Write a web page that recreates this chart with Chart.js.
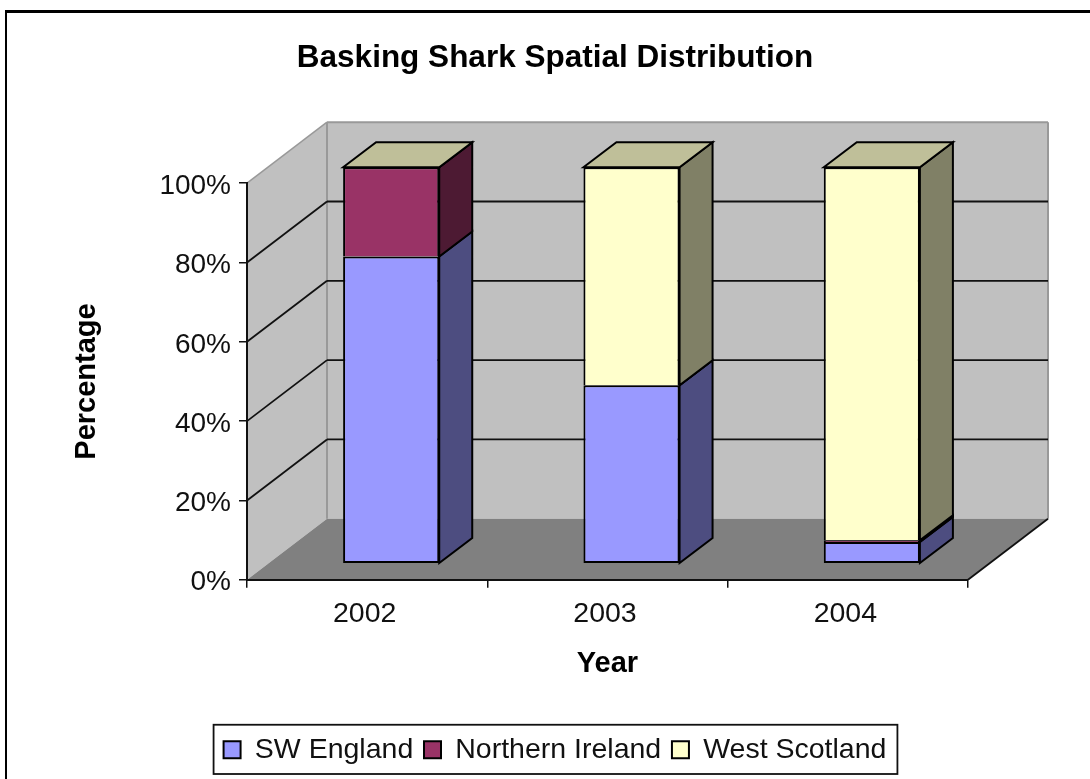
<!DOCTYPE html>
<html>
<head>
<meta charset="utf-8">
<title>Basking Shark Spatial Distribution</title>
<script src="https://cdn.jsdelivr.net/npm/chart.js@4"></script>
<style>
    html, body { margin: 0; padding: 0; background: #ffffff; }
    canvas { display: block; filter: blur(0.4px); }
</style>
</head>
<body>
<canvas id="sharkChart" width="1090" height="779"></canvas>
<script>
const years = ["2002", "2003", "2004"];
const swEngland = [77.5, 45, 5.5];
const northernIreland = [22.5, 0, 0.4];
const westScotland = [0, 55, 94.1];

const seriesNames = ["SW England", "Northern Ireland", "West Scotland"];
const frontColors = ["#9999FF", "#993366", "#FFFFCC"];
const sideColors = ["#4D4D80", "#4D1A33", "#808066"];
const topColors = ["#BFBFE6", "#B3668C", "#BFBF99"];

const FONT = "'Liberation Sans', Arial, sans-serif";

// how far the back wall and the bars sit behind the front plane
const wallDepth = { x: 80, y: -61 };
const barShift = { x: 24, y: -16 };
const barDepth = { x: 33, y: -25 };

function fillPoly(ctx, points, fill, stroke, lineWidth) {
    ctx.beginPath();
    points.forEach((p, i) => {
        if (i === 0) ctx.moveTo(p[0], p[1]);
        else ctx.lineTo(p[0], p[1]);
    });
    ctx.closePath();
    if (fill) {
        ctx.fillStyle = fill;
        ctx.fill();
    }
    if (stroke) {
        ctx.strokeStyle = stroke;
        ctx.lineWidth = lineWidth;
        ctx.stroke();
    }
}

function drawLine(ctx, x1, y1, x2, y2, color, width) {
    ctx.beginPath();
    ctx.moveTo(x1, y1);
    ctx.lineTo(x2, y2);
    ctx.strokeStyle = color;
    ctx.lineWidth = width;
    ctx.stroke();
}

const boxWalls = {
    id: "boxWalls",
    beforeDraw(chart) {
        const ctx = chart.ctx;
        const { left, right, top, bottom } = chart.chartArea;
        const dx = wallDepth.x;
        const dy = wallDepth.y;

        ctx.save();
        // outer frame, only top and left show in the picture
        ctx.fillStyle = "#000000";
        ctx.fillRect(5, 10, 1085, 3);
        ctx.fillRect(5, 10, 2, 769);

        fillPoly(ctx, [[left, top], [left + dx, top + dy], [left + dx, bottom + dy], [left, bottom]], "#C0C0C0");
        fillPoly(ctx, [[left + dx, top + dy], [right + dx, top + dy], [right + dx, bottom + dy], [left + dx, bottom + dy]], "#C0C0C0");
        fillPoly(ctx, [[left, bottom], [left + dx, bottom + dy], [right + dx, bottom + dy], [right, bottom]], "#808080");

        drawLine(ctx, left, top, left + dx, top + dy, "#999999", 1.5);
        drawLine(ctx, left + dx, top + dy, right + dx, top + dy, "#999999", 2);
        drawLine(ctx, left + dx, top + dy, left + dx, bottom + dy, "#999999", 2);
        drawLine(ctx, right + dx, top + dy, right + dx, bottom + dy, "#999999", 2);
        drawLine(ctx, right, bottom, right + dx, bottom + dy, "#111111", 1.8);

        chart.scales.y.ticks.forEach((tick) => {
            if (tick.value === 0 || tick.value === 100) return;
            const y = chart.scales.y.getPixelForValue(tick.value);
            drawLine(ctx, left, y, left + dx, y + dy, "#111111", 1.8);
            drawLine(ctx, left + dx, y + dy, right + dx, y + dy, "#111111", 1.8);
        });
        ctx.restore();
    }
};

const barBlocks = {
    id: "barBlocks",
    beforeDatasetsDraw(chart) {
        const ctx = chart.ctx;
        ctx.save();
        ctx.translate(barShift.x, barShift.y);

        chart.data.datasets.forEach((dataset, i) => {
            chart.getDatasetMeta(i).data.forEach((bar) => {
                const { x, y, base, width } = bar.getProps(["x", "y", "base", "width"], true);
                const l = x - width / 2;
                const r = x + width / 2;
                fillPoly(ctx, [[r, y], [r + barDepth.x, y + barDepth.y], [r + barDepth.x, base + barDepth.y], [r, base]], sideColors[i], "#000000", 2);
                if (i === chart.data.datasets.length - 1) {
                    fillPoly(ctx, [[l, y], [l + barDepth.x, y + barDepth.y], [r + barDepth.x, y + barDepth.y], [r, y]], topColors[i], "#000000", 2);
                }
            });
        });
    },
    afterDatasetsDraw(chart) {
        chart.ctx.restore();
    }
};

const legendBox = {
    id: "legendBox",
    afterDraw(chart) {
        const legend = chart.legend;
        const boxes = legend.legendHitBoxes;
        const last = boxes[boxes.length - 1];
        const ctx = chart.ctx;
        ctx.save();
        ctx.strokeStyle = "#111111";
        ctx.lineWidth = 1.8;
        ctx.strokeRect(boxes[0].left - 10, legend.top, last.left + last.width + 21 - boxes[0].left, legend.height);
        ctx.restore();
    }
};

new Chart(document.getElementById("sharkChart"), {
    type: "bar",
    data: {
        labels: years,
        datasets: [swEngland, northernIreland, westScotland].map((values, i) => ({
            label: seriesNames[i],
            data: values,
            backgroundColor: frontColors[i],
            borderColor: "#000000",
            borderWidth: 2,
            // the bar below already draws the shared edge
            borderSkipped: i === 0 ? false : "bottom",
            categoryPercentage: 0.4,
            barPercentage: 1
        }))
    },
    options: {
        responsive: false,
        animation: false,
        layout: {
            padding: { left: 20, right: 0, top: 0, bottom: 5 }
        },
        plugins: {
            title: {
                display: true,
                text: "Basking Shark Spatial Distribution",
                color: "#000000",
                font: { family: FONT, size: 31.5, weight: "bold" },
                padding: { top: 39, bottom: 106.4 }
            },
            legend: {
                position: "bottom",
                labels: {
                    color: "#111111",
                    font: { family: FONT, size: 28.5 },
                    boxWidth: 17,
                    boxHeight: 17,
                    padding: 10.75
                }
            },
            tooltip: { enabled: false }
        },
        scales: {
            x: {
                stacked: true,
                grid: { drawOnChartArea: false, color: "#111111", tickLength: 8, lineWidth: 1.5 },
                border: { color: "#111111", width: 2 },
                ticks: { color: "#111111", font: { family: FONT, size: 28.5 }, padding: 9, maxRotation: 0, labelOffset: -2.5 },
                title: {
                    display: true,
                    text: "Year",
                    color: "#000000",
                    font: { family: FONT, size: 29, weight: "bold" },
                    padding: { top: 0, bottom: 43 }
                },
                afterFit(scale) {
                    scale.height = 145;
                }
            },
            y: {
                stacked: true,
                min: 0,
                max: 100,
                grid: { drawOnChartArea: false, color: "#111111", tickLength: 8, lineWidth: 1.5 },
                border: { color: "#111111", width: 2 },
                ticks: {
                    stepSize: 20,
                    color: "#111111",
                    font: { family: FONT, size: 28 },
                    padding: 8,
                    labelOffset: 3,
                    callback: (value) => value + "%"
                },
                title: {
                    display: true,
                    text: "Percentage",
                    color: "#000000",
                    font: { family: FONT, size: 29, weight: "bold" },
                    padding: { top: 50, bottom: 0 }
                },
                afterFit(scale) {
                    scale.width = 227;
                }
            },
            // empty axis that only keeps the room for the depth of the box on the right
            depth: {
                position: "right",
                grid: { display: false },
                border: { display: false },
                ticks: { display: false },
                afterFit(scale) {
                    scale.width = 122;
                }
            }
        }
    },
    plugins: [boxWalls, barBlocks, legendBox]
});
</script>
</body>
</html>
